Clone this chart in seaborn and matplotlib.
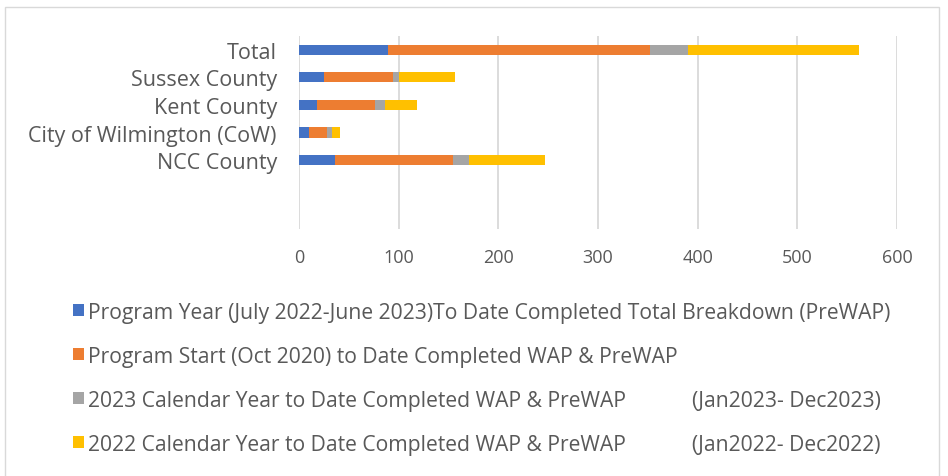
import numpy as np
import pandas as pd
import seaborn as sns
import matplotlib.pyplot as plt
from matplotlib.patches import Patch, Rectangle

categories = ["Total", "Sussex County", "Kent County",
              "City of Wilmington (CoW)", "NCC County"]
program_year = [89, 25, 18, 10, 36]
program_start = [263, 69, 58, 18, 118]
cal_2023 = [38, 6, 10, 5, 17]
cal_2022 = [172, 56, 32, 8, 76]

series_names = [
    "Program Year (July 2022-June 2023)To Date Completed Total Breakdown (PreWAP)",
    "Program Start (Oct 2020) to Date Completed WAP & PreWAP",
    "2023 Calendar Year to Date Completed WAP & PreWAP            (Jan2023- Dec2023)",
    "2022 Calendar Year to Date Completed WAP & PreWAP            (Jan2022- Dec2022)",
]
colors = ["#4472C4", "#ED7D31", "#A5A5A5", "#FFC000"]
x_ticks = [0, 100, 200, 300, 400, 500, 600]

sns.set_theme(style="white")
plt.rcParams["font.family"] = ["Open Sans", "DejaVu Sans"]
text_color = "#595959"

# cumulative ends of each stacked segment
stack = np.cumsum(np.array([program_year, program_start, cal_2023, cal_2022]),
                  axis=0)
order = categories + ["", " "]

fig = plt.figure(figsize=(9.48, 4.77), dpi=100)
ax = fig.add_axes([0.3154, 0.5178, 0.631, 0.4046])

for i in range(3, -1, -1):
    df = pd.DataFrame({"cat": categories, "val": stack[i]})
    sns.barplot(data=df, x="val", y="cat", order=order, color=colors[i],
                width=0.37, linewidth=0, saturation=1, ax=ax, orient="h")

ax.set_ylim(6.5, -0.5)
ax.set_xlim(0, 600)
ax.set_xticks(x_ticks)
ax.set_xticklabels([str(t) for t in x_ticks])
ax.set_yticks(range(len(categories)))
ax.set_yticklabels(categories)
ax.set_xlabel("")
ax.set_ylabel("")
ax.xaxis.grid(True, color="#D9D9D9", linewidth=1.3)
ax.set_axisbelow(True)
for s in ax.spines.values():
    s.set_visible(False)
ax.tick_params(axis="both", length=0, colors=text_color)
ax.tick_params(axis="y", labelsize=15.5, pad=16)
ax.tick_params(axis="x", labelsize=13, pad=14)

handles = [Patch(facecolor=c, edgecolor="none") for c in colors]
fig.legend(handles, series_names, loc="upper left",
           bbox_to_anchor=(0.068, 0.383), frameon=False, fontsize=15.2,
           labelcolor=text_color, handlelength=0.52, handleheight=0.52,
           handletextpad=0.2, labelspacing=1.09, borderaxespad=0)

fig.patches.append(Rectangle((5 / 948, -0.1), 934 / 948, 1.1 - 8 / 477,
                             transform=fig.transFigure, fill=False,
                             edgecolor="#D9D9D9", linewidth=1))

fig.savefig("out.png", dpi=100)
